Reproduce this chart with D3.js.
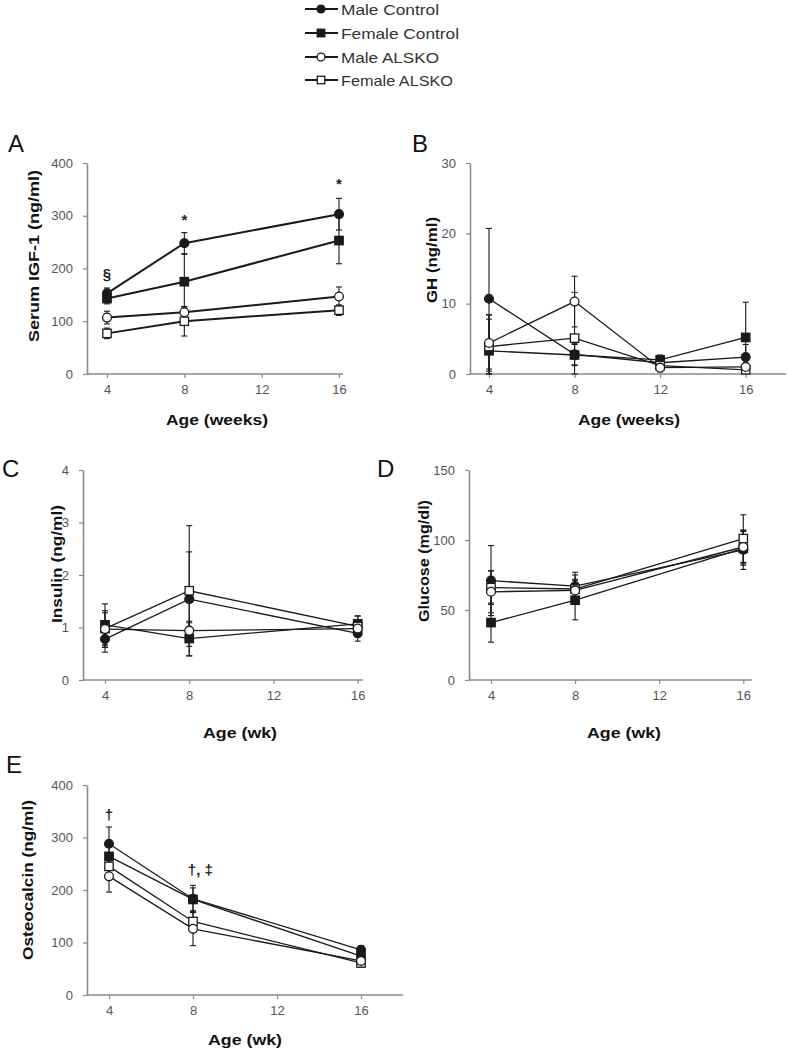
<!DOCTYPE html>
<html><head><meta charset="utf-8">
<script src="https://cdn.jsdelivr.net/npm/d3@7"></script>
<style>body{margin:0;background:#fff}svg{display:block}text{font-family:"Liberation Sans",Arial,sans-serif}</style>
</head><body>
<svg id="c" width="788" height="1050"></svg>
<script>
// ---------- DATA ----------
const seriesNames = ["Male Control", "Female Control", "Male ALSKO", "Female ALSKO"];
const weeks3 = [4, 8, 16];
const weeks4 = [4, 8, 12, 16];
const xTicks = [4, 8, 12, 16];

// A: Serum IGF-1 (ng/ml)
const igfMC = [153, 248, 303], igfMCerr = [10, 20, 30];
const igfFC = [143, 175, 253], igfFCerr = [10, 52, 44];
const igfMA = [107, 117, 147], igfMAerr = [12, 10, 18];
const igfFA = [77, 100, 121], igfFAerr = [10, 28, 10];
const igfTicks = [0, 100, 200, 300, 400];

// B: GH (ng/ml)
const ghMC = [10.7, 2.8, 1.6, 2.4], ghMCerr = [10, 1.5, 0.8, 1.8];
const ghFC = [3.3, 2.7, 2.0, 5.2], ghFCerr = [4.5, 1.5, 0.7, 5];
const ghMA = [4.4, 10.3, 0.9, 1.0], ghMAerr = [4, 3.6, 0.6, 0.6];
const ghFA = [3.9, 5.1, 1.2, 0.6], ghFAerr = [4.5, 6.5, 0.6, 0.5];
const ghTicks = [0, 10, 20, 30];

// C: Insulin (ng/ml)
const insMC = [0.78, 1.54, 0.89], insMCerr = [0.25, 0.9, 0.15];
const insFC = [1.05, 0.79, 1.07], insFCerr = [0.4, 0.33, 0.15];
const insMA = [0.97, 0.94, 0.98], insMAerr = [0.35, 0.15, 0.12];
const insFA = [0.98, 1.70, 1.02], insFAerr = [0.3, 1.24, 0.2];
const insTicks = [0, 1, 2, 3, 4];

// D: Glucose (mg/dl)
const gluMC = [71, 67, 93], gluMCerr = [25, 10, 14];
const gluFC = [41, 57, 94], gluFCerr = [14, 14, 12];
const gluMA = [63, 64, 95], gluMAerr = [15, 8, 12];
const gluFA = [66, 65, 101], gluFAerr = [12, 10, 17];
const gluTicks = [0, 50, 100, 150];

// E: Osteocalcin (ng/ml)
const ocMC = [288, 183, 86], ocMCerr = [32, 26, 8];
const ocFC = [264, 182, 74], ocFCerr = [25, 22, 8];
const ocMA = [226, 126, 65], ocMAerr = [30, 32, 8];
const ocFA = [245, 140, 61], ocFAerr = [25, 20, 8];
const ocTicks = [0, 100, 200, 300, 400];

// annotations [week, value, text]
const annA = [[4, 190, "§"], [8, 292, "*"], [16, 362, "*"]];
const annE = [[4, 343, "†"], [8.35, 240, "†, ‡"]];

// ---------- LAYOUT ----------
const svg = d3.select("#c");
const ink = "#1a1a1a", axisCol = "#8a8a8a", tickTextCol = "#555";

const panels = [
  {letter:"A", lx:8, ly:152, x4:107, x16:339, axL:87, axR:343, y0:374, yT:163, ymax:400, yTicks:igfTicks,
   weeks:weeks3, data:[[igfMC,igfMCerr],[igfFC,igfFCerr],[igfMA,igfMAerr],[igfFA,igfFAerr]],
   ylab:"Serum IGF-1 (ng/ml)", ylx:34, yly:256, yll:172, xlab:"Age (weeks)", xlx:217, xly:425, xll:102,
   lw:2, ann:annA},
  {letter:"B", lx:412, ly:152, x4:489, x16:745.7, axL:470, axR:786, y0:374, yT:163, ymax:30, yTicks:ghTicks,
   weeks:weeks4, data:[[ghMC,ghMCerr],[ghFC,ghFCerr],[ghMA,ghMAerr],[ghFA,ghFAerr]],
   ylab:"GH (ng/ml)", ylx:432, yly:260, yll:86, xlab:"Age (weeks)", xlx:629, xly:425, xll:102,
   lw:1.3, ann:[]},
  {letter:"C", lx:2, ly:477, x4:105, x16:357.7, axL:83, axR:363, y0:680, yT:470, ymax:4, yTicks:insTicks,
   weeks:weeks3, data:[[insMC,insMCerr],[insFC,insFCerr],[insMA,insMAerr],[insFA,insFAerr]],
   ylab:"Insulin (ng/ml)", ylx:57, yly:564, yll:118, xlab:"Age (wk)", xlx:240, xly:738, xll:74,
   lw:1.3, ann:[]},
  {letter:"D", lx:377, ly:477, x4:491, x16:743.3, axL:469, axR:752, y0:680, yT:470, ymax:150, yTicks:gluTicks,
   weeks:weeks3, data:[[gluMC,gluMCerr],[gluFC,gluFCerr],[gluMA,gluMAerr],[gluFA,gluFAerr]],
   ylab:"Glucose (mg/dl)", ylx:424, yly:561, yll:122, xlab:"Age (wk)", xlx:624, xly:738, xll:74,
   lw:1.3, ann:[]},
  {letter:"E", lx:6, ly:773, x4:109, x16:361, axL:87, axR:403, y0:995, yT:785, ymax:400, yTicks:ocTicks,
   weeks:weeks3, data:[[ocMC,ocMCerr],[ocFC,ocFCerr],[ocMA,ocMAerr],[ocFA,ocFAerr]],
   ylab:"Osteocalcin (ng/ml)", ylx:28, yly:880, yll:160, xlab:"Age (wk)", xlx:245, xly:1045, xll:74,
   lw:1.3, ann:annE}
];

// marker: index 0 filled circle, 1 filled square, 2 open circle, 3 open square
function drawMarker(g, i, cx, cy, scale) {
  const s = scale || 1;
  const fill = (i < 2) ? ink : "#fff";
  if (i === 0 || i === 2) {
    g.append("circle").attr("cx", cx).attr("cy", cy).attr("r", 4.4 * s)
      .attr("fill", fill).attr("stroke", ink).attr("stroke-width", 1.3);
  } else {
    const h = 4.2 * s;
    g.append("rect").attr("x", cx - h).attr("y", cy - h).attr("width", 2 * h).attr("height", 2 * h)
      .attr("fill", fill).attr("stroke", ink).attr("stroke-width", 1.3);
  }
}

panels.forEach(p => {
  const g = svg.append("g");
  const x = d3.scaleLinear().domain([4, 16]).range([p.x4, p.x16]);
  const y = d3.scaleLinear().domain([0, p.ymax]).range([p.y0, p.yT]);

  // panel letter
  g.append("text").attr("x", p.lx).attr("y", p.ly).attr("font-size", 24).attr("fill", "#111").text(p.letter);

  // y axis
  const ya = g.append("g").attr("transform", `translate(${p.axL},0)`)
    .call(d3.axisLeft(y).tickValues(p.yTicks).tickFormat(d3.format("d")).tickSize(4).tickPadding(10).tickSizeOuter(0));
  ya.select(".domain").attr("stroke", axisCol).attr("stroke-width", 1.6);
  ya.selectAll(".tick line").attr("stroke", axisCol).attr("stroke-width", 1.2);
  ya.selectAll(".tick text").attr("font-size", 13).attr("fill", tickTextCol)
    .attr("font-family", "Liberation Sans, Arial, sans-serif");

  // x axis
  const xa = g.append("g").attr("transform", `translate(0,${p.y0})`)
    .call(d3.axisBottom(x).tickValues(xTicks).tickFormat(d3.format("d")).tickSize(4).tickPadding(7).tickSizeOuter(0));
  xa.select(".domain").remove();
  xa.append("line").attr("x1", p.axL).attr("x2", p.axR).attr("y1", 0).attr("y2", 0)
    .attr("stroke", axisCol).attr("stroke-width", 1.6);
  xa.selectAll(".tick line").attr("stroke", axisCol).attr("stroke-width", 1.2);
  xa.selectAll(".tick text").attr("font-size", 13).attr("fill", tickTextCol)
    .attr("font-family", "Liberation Sans, Arial, sans-serif");

  // axis titles
  g.append("text").attr("x", p.xlx).attr("y", p.xly).attr("text-anchor", "middle")
    .attr("font-size", 15).attr("font-weight", "bold").attr("fill", "#111")
    .attr("textLength", p.xll).attr("lengthAdjust", "spacingAndGlyphs").text(p.xlab);
  g.append("text").attr("transform", `translate(${p.ylx + 5},${p.yly}) rotate(-90)`).attr("text-anchor", "middle")
    .attr("font-size", 15).attr("font-weight", "bold").attr("fill", "#111")
    .attr("textLength", p.yll).attr("lengthAdjust", "spacingAndGlyphs").text(p.ylab);

  // error bars
  p.data.forEach(([vals, errs]) => {
    vals.forEach((v, k) => {
      const cx = x(p.weeks[k]);
      const top = y(v + errs[k]), bot = y(Math.max(0, v - errs[k]));
      g.append("line").attr("x1", cx).attr("x2", cx).attr("y1", top).attr("y2", bot)
        .attr("stroke", ink).attr("stroke-width", 1.1);
      [top, bot].forEach(yy => g.append("line").attr("x1", cx - 3).attr("x2", cx + 3)
        .attr("y1", yy).attr("y2", yy).attr("stroke", ink).attr("stroke-width", 1.1));
    });
  });

  // lines
  const line = d3.line().x(d => x(d[0])).y(d => y(d[1]));
  p.data.forEach(([vals]) => {
    g.append("path").attr("d", line(vals.map((v, k) => [p.weeks[k], v])))
      .attr("fill", "none").attr("stroke", ink).attr("stroke-width", p.lw);
  });

  // markers (open drawn last)
  [1, 0, 3, 2].forEach(i => {
    const vals = p.data[i][0];
    vals.forEach((v, k) => drawMarker(g, i, x(p.weeks[k]), y(v)));
  });

  // annotations
  p.ann.forEach(([wk, val, t]) => {
    g.append("text").attr("x", x(wk)).attr("y", y(val)).attr("text-anchor", "middle")
      .attr("dominant-baseline", "central").attr("font-size", 15).attr("font-weight", "bold")
      .attr("fill", "#222").text(t);
  });
});

// legend
const legY = [9, 33, 57, 80];
const leg = svg.append("g");
seriesNames.forEach((name, i) => {
  leg.append("line").attr("x1", 305).attr("x2", 338).attr("y1", legY[i]).attr("y2", legY[i])
    .attr("stroke", ink).attr("stroke-width", 2);
  drawMarker(leg, i, 321, legY[i], 0.9);
  leg.append("text").attr("x", 341).attr("y", legY[i]).attr("dominant-baseline", "central")
    .attr("font-size", 15).attr("fill", "#333")
    .attr("textLength", [98, 118, 98, 112][i]).attr("lengthAdjust", "spacingAndGlyphs").text(name);
});
</script>
</body></html>
